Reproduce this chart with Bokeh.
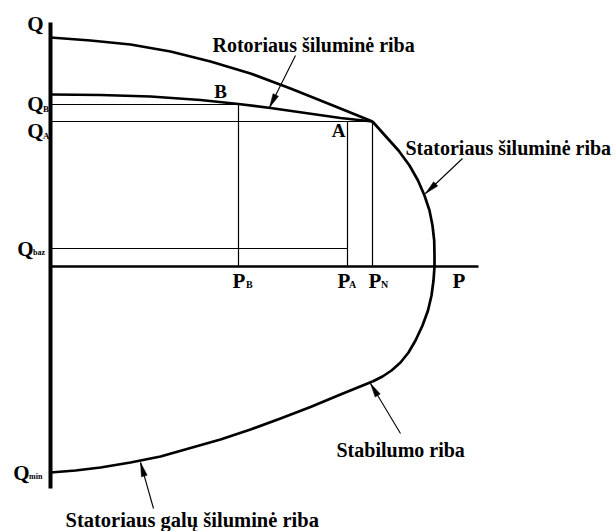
import numpy as np
from bokeh.plotting import figure
from bokeh.models import Range1d, ColumnDataSource
from bokeh.core.properties import value
from bokeh.embed import file_html
from bokeh.resources import INLINE

# --- Generator capability diagram (P-Q plane), relative units ---

# Rotor thermal limit, outer curve (Q axis -> rated point N)
rotor_outer_P = [0.00, 0.40, 0.80, 1.20, 1.60, 2.00, 2.40, 2.80, 3.22]
rotor_outer_Q = [2.29, 2.26, 2.22, 2.15, 2.05, 1.93, 1.78, 1.62, 1.45]

# Rotor thermal limit, inner curve through B and A
rotor_inner_P = [0.00, 0.50, 1.00, 1.50, 1.88, 2.20, 2.55, 2.90, 3.22]
rotor_inner_Q = [1.72, 1.715, 1.70, 1.665, 1.625, 1.585, 1.535, 1.485, 1.45]

# Stator thermal limit (from N round to the stability limit)
stator_P = [3.22, 3.345, 3.48, 3.59, 3.675, 3.74, 3.79, 3.82, 3.837, 3.84, 3.84,
            3.83, 3.81, 3.775, 3.72, 3.65, 3.58, 3.50, 3.41, 3.32, 3.22]
stator_Q = [1.45, 1.31, 1.16, 1.01, 0.86, 0.71, 0.56, 0.41, 0.26, 0.11, 0.00,
            -0.14, -0.29, -0.44, -0.59, -0.74, -0.86, -0.96, -1.04, -1.10, -1.15]

# Stability / stator-end heating limit (under-excited region down to Qmin)
under_P = [3.22, 2.90, 2.60, 2.30, 2.00, 1.70, 1.40, 1.10, 0.80, 0.50, 0.25, 0.00]
under_Q = [-1.15, -1.28, -1.405, -1.52, -1.63, -1.73, -1.815, -1.90, -1.96, -2.01, -2.04, -2.06]

# Operating points
P_B, Q_B = 1.88, 1.62
P_A, Q_A = 2.97, 1.45
P_N = 3.22
Q_baz = 0.18
Q_min = -2.06

# Axis extents
Q_axis_top, Q_axis_bottom = 2.44, -2.22
P_axis_end = 4.28

FONT = value("Liberation Serif")

p = figure(width=615, height=531, output_backend="svg", toolbar_location=None,
           x_range=Range1d(-0.50, 5.65), y_range=Range1d(-2.65, 2.66),
           min_border=0, outline_line_color=None)
p.axis.visible = False
p.grid.visible = False
p.background_fill_color = "white"
p.border_fill_color = "white"

# Axes
p.line([0, 0], [Q_axis_bottom, Q_axis_top], line_color="black", line_width=4)
p.line([0, P_axis_end], [0, 0], line_color="black", line_width=2.5)

# Limit curves
for xs, ys in [(rotor_outer_P, rotor_outer_Q), (rotor_inner_P, rotor_inner_Q),
               (stator_P, stator_Q), (under_P, under_Q)]:
    p.line(xs, ys, line_color="black", line_width=2.7, line_join="round")

# Construction lines
seg = ColumnDataSource(dict(
    x0=[0, P_B, 0, P_A, P_N, 0],
    y0=[Q_B, Q_B, Q_A, Q_A, Q_A, Q_baz],
    x1=[P_B, P_B, P_N, P_A, P_N, P_A],
    y1=[Q_B, 0, Q_A, 0, 0, Q_baz],
))
p.segment("x0", "y0", "x1", "y1", source=seg, line_color="black", line_width=1.2)

# Pointer arrows from labels to curves
arrow_tail_x = [2.45, 4.12, 3.50, 1.03]
arrow_tail_y = [2.11, 1.08, -1.67, -2.42]
arrow_tip_x = [2.19, 3.75, 3.20, 0.90]
arrow_tip_y = [1.59, 0.73, -1.17, -1.96]
p.segment(arrow_tail_x, arrow_tail_y, arrow_tip_x, arrow_tip_y,
          line_color="black", line_width=1.1)
head_len, head_half = 0.14, 0.03
hx, hy = [], []
for x0, y0, x1, y1 in zip(arrow_tail_x, arrow_tail_y, arrow_tip_x, arrow_tip_y):
    d = np.array([x1 - x0, y1 - y0])
    d = d / np.hypot(*d)
    n = np.array([-d[1], d[0]])
    tip = np.array([x1, y1])
    base = tip - head_len * d
    a, b = base + head_half * n, base - head_half * n
    hx.append([tip[0], a[0], b[0]])
    hy.append([tip[1], a[1], b[1]])
p.patches(hx, hy, fill_color="black", line_color="black", line_width=0.5)


def txt(x, y, s, size, align="left", baseline="middle"):
    p.text([x], [y], text=[s], text_font=FONT, text_font_style="bold",
           text_font_size=f"{size}px", text_align=align, text_baseline=baseline,
           text_color="black")


# Curve names
txt(1.62, 2.22, "Rotoriaus šiluminė riba", 20)
txt(3.55, 1.19, "Statoriaus šiluminė riba", 20)
txt(2.86, -1.83, "Stabilumo riba", 20)
txt(0.15, -2.53, "Statoriaus galų šiluminė riba", 20.5)

# Point names
txt(1.70, 1.75, "B", 19, align="center")
txt(2.88, 1.36, "A", 19, align="center")

# Q-axis labels (main letter + subscript)
txt(-0.07, 2.43, "Q", 21, align="right")
txt(-0.07, 1.63, "Q", 21, align="right")
txt(-0.07, 1.36, "Q", 21, align="right")
txt(-0.17, 0.18, "Q", 21, align="right")
txt(-0.21, Q_min, "Q", 21, align="right")
txt(-0.075, 1.58, "B", 9, align="left")
txt(-0.075, 1.31, "A", 9, align="left")
txt(-0.175, 0.14, "baz", 8, align="left")
txt(-0.215, Q_min - 0.04, "min", 8, align="left")

# P-axis labels
txt(P_B - 0.06, -0.14, "P", 21, align="left")
txt(P_B + 0.075, -0.18, "B", 10, align="left")
txt(P_A - 0.10, -0.14, "P", 21, align="left")
txt(P_A + 0.015, -0.18, "A", 10, align="left")
txt(P_N - 0.04, -0.14, "P", 21, align="left")
txt(P_N + 0.085, -0.18, "N", 10, align="left")
txt(4.02, -0.14, "P", 21, align="left")

open("out.html", "w").write(file_html(p, INLINE))
